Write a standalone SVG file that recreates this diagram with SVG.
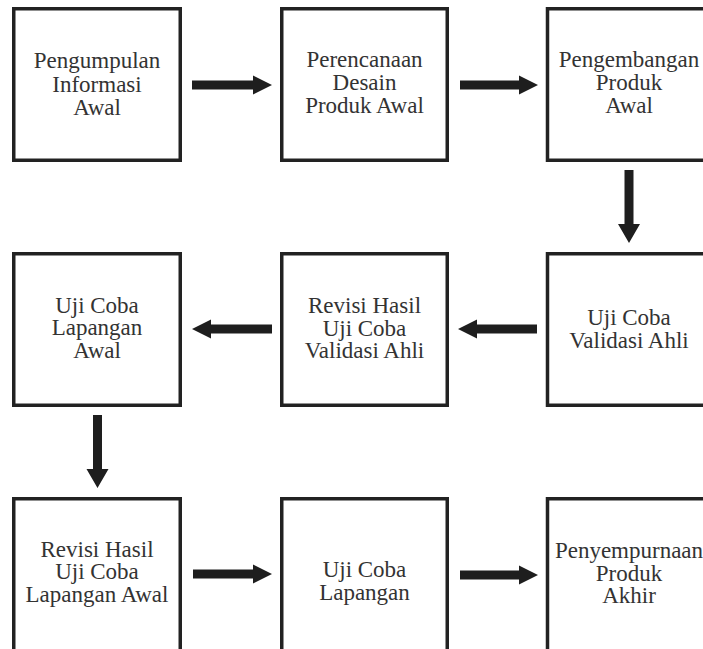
<svg xmlns="http://www.w3.org/2000/svg" width="703" height="649" viewBox="0 0 703 649">
  <style>
    .box { fill: #ffffff; stroke: #222222; stroke-width: 3.5; }
    .lbl { font-family: "Liberation Serif", "Times New Roman", serif; font-size: 23px; fill: #333333; text-anchor: middle; }
    .arr { fill: #1e1e1e; stroke: none; }
  </style>
  <rect x="0" y="0" width="703" height="649" fill="#ffffff"/>

  <g id="n1">
    <rect class="box" x="13.75" y="8.75" width="166.5" height="151.5"/>
    <text class="lbl" x="97" y="68">Pengumpulan</text>
    <text class="lbl" x="97" y="92">Informasi</text>
    <text class="lbl" x="97" y="115">Awal</text>
  </g>
  <g id="n2">
    <rect class="box" x="281.75" y="8.75" width="165.5" height="151.5"/>
    <text class="lbl" x="364.5" y="67">Perencanaan</text>
    <text class="lbl" x="364.5" y="90">Desain</text>
    <text class="lbl" x="364.5" y="113">Produk Awal</text>
  </g>
  <g id="n3">
    <rect class="box" x="547.5" y="8.75" width="166" height="151.5"/>
    <text class="lbl" x="629" y="67">Pengembangan</text>
    <text class="lbl" x="629" y="90">Produk</text>
    <text class="lbl" x="629" y="113">Awal</text>
  </g>
  <g id="n4">
    <rect class="box" x="547.5" y="253.75" width="166" height="151.5"/>
    <text class="lbl" x="629" y="325">Uji Coba</text>
    <text class="lbl" x="629" y="348">Validasi Ahli</text>
  </g>
  <g id="n5">
    <rect class="box" x="281.75" y="253.75" width="165.5" height="151.5"/>
    <text class="lbl" x="364.5" y="313">Revisi Hasil</text>
    <text class="lbl" x="364.5" y="336">Uji Coba</text>
    <text class="lbl" x="364.5" y="358">Validasi Ahli</text>
  </g>
  <g id="n6">
    <rect class="box" x="13.75" y="253.75" width="166.5" height="151.5"/>
    <text class="lbl" x="97" y="313">Uji Coba</text>
    <text class="lbl" x="97" y="335">Lapangan</text>
    <text class="lbl" x="97" y="358">Awal</text>
  </g>
  <g id="n7">
    <rect class="box" x="13.75" y="498.75" width="166.5" height="200"/>
    <text class="lbl" x="97" y="557">Revisi Hasil</text>
    <text class="lbl" x="97" y="579">Uji Coba</text>
    <text class="lbl" x="97" y="602">Lapangan Awal</text>
  </g>
  <g id="n8">
    <rect class="box" x="281.75" y="498.75" width="165.5" height="200"/>
    <text class="lbl" x="364.5" y="577">Uji Coba</text>
    <text class="lbl" x="364.5" y="600">Lapangan</text>
  </g>
  <g id="n9">
    <rect class="box" x="547.5" y="498.75" width="166" height="200"/>
    <text class="lbl" x="629" y="558">Penyempurnaan</text>
    <text class="lbl" x="629" y="581">Produk</text>
    <text class="lbl" x="629" y="603">Akhir</text>
  </g>

  <g id="connectors">
    <polygon class="arr" points="192,80.5 253,80.5 253,75.5 272,85 253,94.5 253,89.5 192,89.5"/>
    <polygon class="arr" points="460,80.5 519,80.5 519,75.5 538,85 519,94.5 519,89.5 460,89.5"/>
    <polygon class="arr" points="624.5,170 633.5,170 633.5,224 640,224 629,243 618,224 624.5,224"/>
    <polygon class="arr" points="537,324.5 477,324.5 477,319.5 458,329 477,338.5 477,333.5 537,333.5"/>
    <polygon class="arr" points="272,324.5 211,324.5 211,319.5 192,329 211,338.5 211,333.5 272,333.5"/>
    <polygon class="arr" points="93,415 102,415 102,469 108.5,469 97.5,488 86.5,469 93,469"/>
    <polygon class="arr" points="193,569.5 253,569.5 253,564.5 272,574 253,583.5 253,578.5 193,578.5"/>
    <polygon class="arr" points="460,570.5 519,570.5 519,565.5 538,575 519,584.5 519,579.5 460,579.5"/>
  </g>
</svg>
